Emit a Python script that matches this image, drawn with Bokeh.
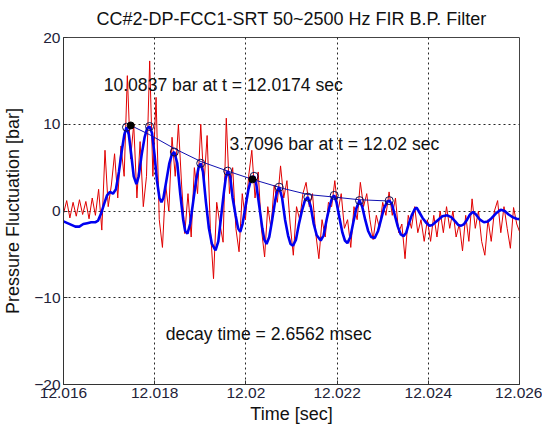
from bokeh.plotting import figure
from bokeh.models import Range1d, FixedTicker, Label
from bokeh.embed import file_html
from bokeh.resources import INLINE

# ---------------- data (time offsets in ms after 12.016 s, values in bar) ----------------
T0 = 12.016

title_text = "CC#2-DP-FCC1-SRT 50~2500 Hz FIR B.P. Filter"
x_ticks = [12.016, 12.018, 12.020, 12.022, 12.024, 12.026]
x_tick_labels = ["12.016", "12.018", "12.02", "12.022", "12.024", "12.026"]
y_ticks = [-20, -10, 0, 10, 20]

# raw pressure signal (red), sampled every 0.07 ms
red_step_ms = 0.07
red_v = [
    -0.3, 1.2, -0.8, 1.0, -0.6, 1.3, -0.4, 1.1, -0.9, 1.5,
    -0.5, 2.5, -2.2, 7.0, 0.5, 3.0, 6.6, 1.5, 7.5, 4.0,
    15.6, 6.0, 10.0, 1.5, 8.0, 0.5, 4.0, 17.3, 4.0, 13.1,
    -1.0, -4.2, 3.0, 0.0, 8.5, 4.0, 10.0, 3.0, -2.6, 2.0,
    -3.0, 5.0, 2.0, 10.0, 3.0, 8.7, -2.0, -7.8, 1.0, -1.5,
    -3.6, 10.7, 2.0, 5.0, -2.0, -4.7, 2.0, -1.0, 4.0, 7.0,
    1.5, 4.5, -2.0, -5.3, 0.5, -2.0, 3.0, 1.0, 5.2, 1.5,
    3.5, -1.5, -5.1, 0.5, -1.0, 2.0, 3.3, 0.5, 2.0, -2.5,
    -5.5, -1.0, -3.0, 1.0, 0.5, 3.5, 0.0, 2.0, -2.0, -1.0,
    -4.2, 0.5, -1.0, 3.3, 0.5, 2.0, -1.0, -3.3, -0.5, -2.0,
    1.0, -0.5, 2.2, -0.5, 1.5, -2.5, -1.5, -5.5, -0.5, -2.0,
    0.5, -2.5, -1.0, -3.5, -1.0, -3.5, -0.5, -3.0, 0.0, -2.5,
    0.5, -2.0, 0.0, -3.0, -1.5, -4.6, -0.5, -3.5, 1.4, -2.0,
    0.0, -3.5, -5.1, -1.0, -3.5, 0.0, 1.2, -2.5, 0.5, -2.0,
    -4.3, 0.4, -1.5, -2.5,
]

# band-pass filtered signal (blue)
blue_ms = [
    0.000, 0.087, 0.174, 0.260, 0.347, 0.434, 0.521, 0.607, 0.694, 0.759,
    0.824, 0.889, 0.954, 1.020, 1.085, 1.150, 1.215, 1.280, 1.334, 1.382,
    1.432, 1.486, 1.540, 1.599, 1.649, 1.714, 1.779, 1.833, 1.887, 1.941,
    1.996, 2.050, 2.104, 2.148, 2.191, 2.256, 2.321, 2.375, 2.430, 2.495,
    2.560, 2.625, 2.668, 2.718, 2.777, 2.842, 2.907, 2.961, 3.009, 3.059,
    3.124, 3.189, 3.254, 3.334, 3.395, 3.449, 3.514, 3.558, 3.601, 3.655,
    3.709, 3.774, 3.829, 3.876, 3.926, 3.991, 4.056, 4.121, 4.180, 4.230,
    4.295, 4.360, 4.404, 4.453, 4.512, 4.577, 4.642, 4.686, 4.729, 4.794,
    4.859, 4.924, 4.978, 5.033, 5.098, 5.163, 5.228, 5.293, 5.358, 5.423,
    5.488, 5.553, 5.640, 5.705, 5.770, 5.835, 5.889, 5.937, 5.987, 6.052,
    6.117, 6.171, 6.226, 6.291, 6.356, 6.421, 6.492, 6.551, 6.616, 6.681,
    6.746, 6.826, 6.898, 6.963, 7.028, 7.093, 7.143, 7.202, 7.267, 7.332,
    7.397, 7.456, 7.516, 7.571, 7.636, 7.701, 7.744, 7.809, 7.874, 7.961,
    8.026, 8.091, 8.156, 8.221, 8.308, 8.417, 8.503, 8.590, 8.655, 8.720,
    8.785, 8.850, 8.915, 8.980, 9.046, 9.132, 9.219, 9.306, 9.393, 9.480,
    9.588, 9.675, 9.762, 9.848, 9.935, 10.000,
]
blue_v = [
    -1.2, -1.4, -1.6, -1.8, -1.8, -1.5, -1.4, -1.3, -1.3, -1.1,
    -0.3, 0.8, 1.8, 2.2, 2.0, 2.5, 4.5, 7.0, 8.8, 9.66,
    8.8, 6.5, 4.0, 3.1, 4.0, 6.5, 8.5, 9.5, 9.74, 9.0,
    6.5, 3.5, 1.5, 1.0, 1.5, 3.5, 5.5, 6.5, 6.8, 5.5,
    2.0, -1.0, -2.3, -2.6, -1.5, 1.0, 3.5, 5.0, 5.5, 4.5,
    1.0, -2.0, -3.8, -4.55, -3.5, -1.0, 2.0, 3.8, 4.6, 4.0,
    1.5, -0.5, -2.0, -2.4, -1.5, 0.5, 2.5, 3.8, 4.0, 3.0,
    0.5, -2.0, -3.3, -3.8, -3.0, -1.0, 1.2, 2.3, 2.75, 1.5,
    -1.0, -2.8, -3.8, -4.0, -3.3, -1.5, 0.0, 1.2, 1.6, 0.5,
    -1.5, -2.8, -3.4, -2.8, -1.0, 0.5, 1.5, 1.8, 1.0, -0.8,
    -2.5, -3.4, -3.7, -3.0, -1.3, 0.3, 1.2, 0.5, -1.0, -2.3,
    -3.0, -3.1, -2.3, -1.0, 0.3, 1.0, 1.2, 0.8, -0.5, -1.8,
    -2.7, -2.9, -2.5, -1.5, -0.5, 0.2, 0.4, -0.2, -0.8, -1.4,
    -1.7, -1.6, -1.3, -1.0, -0.6, -0.5, -0.7, -1.2, -1.6, -1.7,
    -1.5, -1.0, -0.4, -0.1, -0.4, -1.0, -1.3, -1.2, -0.8, -0.3,
    0.15, 0.0, -0.4, -0.7, -0.9, -0.95,
]

# detected peaks of the filtered signal (open circles)
peak_ms = [1.382, 1.887, 2.430, 3.009, 3.601, 4.180, 4.729, 5.358, 5.937, 6.492, 7.143]
peak_v = [9.66, 9.74, 6.8, 5.5, 4.6, 4.0, 2.75, 1.6, 1.8, 1.2, 1.2]

# fitted exponential decay envelope
env_ms = [1.475, 1.887, 2.430, 3.015, 3.601, 4.143, 4.816, 5.358, 5.944, 6.486, 7.137]
env_v = [9.86, 8.8, 7.2, 5.7, 4.6, 3.65, 2.6, 1.9, 1.6, 1.3, 1.15]

# marked points (filled black dots)
mark_ms = [1.475, 4.143]
mark_v = [9.86, 3.65]

ann_texts = ["10.0837 bar at t = 12.0174 sec", "3.7096 bar at t = 12.02 sec", "decay time = 2.6562 msec"]
ann_t = [12.01688, 12.01964, 12.01824]
ann_v = [14.5, 7.75, -14.15]

# ---------------- derived time axes ----------------
red_t = [T0 + i * red_step_ms / 1000.0 for i in range(len(red_v))]
blue_t = [T0 + m / 1000.0 for m in blue_ms]
peak_t = [T0 + m / 1000.0 for m in peak_ms]
env_t = [T0 + m / 1000.0 for m in env_ms]
mark_t = [T0 + m / 1000.0 for m in mark_ms]

FONT = "Liberation Sans"

p = figure(width=542, height=428, output_backend="svg", toolbar_location=None,
           x_range=Range1d(12.016, 12.026), y_range=Range1d(-20, 20),
           min_border_left=58, min_border_right=23, min_border_top=37, min_border_bottom=44)

p.background_fill_color = "white"
p.border_fill_color = "white"
p.outline_line_color = "#444444"
p.outline_line_width = 1

p.title.text = title_text
p.title.align = "center"
p.title.vertical_align = "top"
p.title.text_font = FONT
p.title.text_font_size = "18px"
p.title.text_font_style = "normal"
p.title.text_color = "#111111"
p.title.standoff = 14

for ax in (p.xaxis[0], p.yaxis[0]):
    ax.major_label_text_font = FONT
    ax.major_label_text_font_size = "15.5px"
    ax.major_label_text_color = "#222238"
    ax.axis_label_text_font = FONT
    ax.axis_label_text_font_size = "18px"
    ax.axis_label_text_font_style = "normal"
    ax.axis_label_text_color = "#111111"
    ax.axis_line_color = "#333333"
    ax.major_tick_in = 4
    ax.major_tick_out = 0
    ax.minor_tick_in = 0
    ax.minor_tick_out = 0
    ax.major_tick_line_color = "#333333"
    ax.major_label_standoff = 3

p.xaxis.ticker = FixedTicker(ticks=x_ticks)
p.xaxis.major_label_overrides = {t: s for t, s in zip(x_ticks, x_tick_labels)}
p.yaxis.ticker = FixedTicker(ticks=y_ticks)
p.xaxis.axis_label = "Time [sec]"
p.yaxis.axis_label = "Pressure Fluctuation [bar]"
p.xaxis.axis_label_standoff = 3
p.yaxis.axis_label_standoff = 8

for g in (p.xgrid[0], p.ygrid[0]):
    g.grid_line_color = "black"
    g.grid_line_dash = "2 3"
    g.grid_line_alpha = 0.85
    g.grid_line_width = 1

p.line(red_t, red_v, line_color="#e00000", line_width=1)
p.line(blue_t, blue_v, line_color="#0000f0", line_width=2.6)
p.line(env_t, env_v, line_color="#1010b0", line_width=1)
p.scatter(peak_t, peak_v, marker="circle", size=8, fill_color=None,
          line_color="#101050", line_width=1)
p.scatter(mark_t, mark_v, marker="circle", size=7, fill_color="black", line_color="black")

for txt, tx, ty in zip(ann_texts, ann_t, ann_v):
    p.add_layout(Label(x=tx, y=ty, text=txt, text_font=FONT, text_font_size="17.6px",
                       text_baseline="middle", text_align="left", text_color="#111111"))

open("out.html", "w").write(file_html(p, INLINE))
